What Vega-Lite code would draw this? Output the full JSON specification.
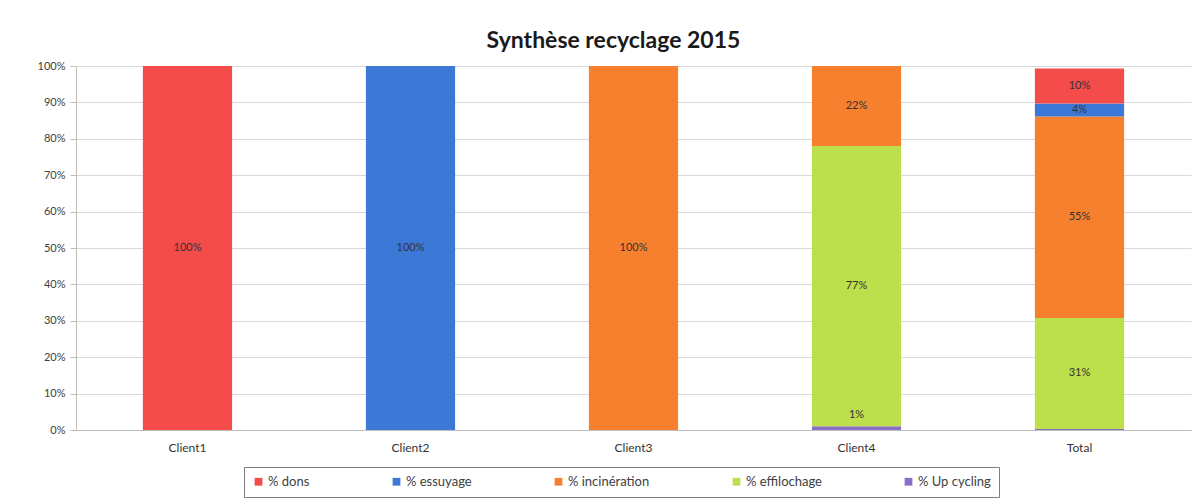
{
  "$schema": "https://vega.github.io/schema/vega-lite/v6.json",
  "width": 1115,
  "height": 364,
  "autosize": "none",
  "padding": {"left": 76, "top": 66, "right": 12, "bottom": 72},
  "background": "white",
  "title": {"text": "Synthèse recyclage 2015", "font": "Lato", "fontSize": 23, "fontWeight": "bold", "color": "#1a1a1a", "offset": 7, "dx": -20},
  "data": {"values": [
    {"client": "Client1", "type": "% dons", "value": 1.0},
    {"client": "Client2", "type": "% essuyage", "value": 1.0},
    {"client": "Client3", "type": "% incinération", "value": 1.0},
    {"client": "Client4", "type": "% Up cycling", "value": 0.01},
    {"client": "Client4", "type": "% effilochage", "value": 0.77},
    {"client": "Client4", "type": "% incinération", "value": 0.22},
    {"client": "Total", "type": "% Up cycling", "value": 0.003},
    {"client": "Total", "type": "% effilochage", "value": 0.305},
    {"client": "Total", "type": "% incinération", "value": 0.553},
    {"client": "Total", "type": "% essuyage", "value": 0.036},
    {"client": "Total", "type": "% dons", "value": 0.096}
  ]},
  "transform": [
    {"calculate": "indexof(['% Up cycling','% effilochage','% incinération','% essuyage','% dons'], datum.type)", "as": "rank"},
    {"stack": "value", "groupby": ["client"], "sort": [{"field": "rank", "order": "ascending"}], "as": ["v0", "v1"]},
    {"calculate": "(datum.v0 + datum.v1) / 2", "as": "mid"}
  ],
  "encoding": {
    "x": {"field": "client", "type": "nominal", "sort": ["Client1", "Client2", "Client3", "Client4", "Total"],
      "scale": {"paddingInner": 0.6, "paddingOuter": 0.3},
      "axis": {"title": null, "labelAngle": 0, "labelFont": "Lato", "labelFontSize": 12, "labelColor": "#333333", "ticks": false, "labelPadding": 12, "domainColor": "#bfbfbf"}}
  },
  "layer": [
    {
      "mark": {"type": "bar"},
      "encoding": {
        "y": {"field": "v0", "type": "quantitative", "scale": {"domain": [0, 1]},
          "axis": {"title": null, "format": ".0%", "values": [0,0.1,0.2,0.3,0.4,0.5,0.6,0.7,0.8,0.9,1], "labelFont": "Lato", "labelFontSize": 11, "labelColor": "#404040", "gridColor": "#d9d9d9", "domainColor": "#bfbfbf", "tickColor": "#bfbfbf", "tickSize": 6, "labelPadding": 5, "labelOverlap": false}},
        "y2": {"field": "v1"},
        "color": {"field": "type", "type": "nominal",
          "scale": {"domain": ["% dons", "% essuyage", "% incinération", "% effilochage", "% Up cycling"],
                    "range": ["#f44b4b", "#3c78d6", "#f7802f", "#bce04b", "#8a6fc6"]},
          "legend": {"title": null, "orient": "none", "legendX": 168, "legendY": 401, "direction": "horizontal",
            "symbolType": "square", "symbolSize": 60, "symbolStrokeWidth": 0, "labelFont": "Lato", "labelFontSize": 13, "labelColor": "#404040",
            "columnPadding": 80, "padding": 8, "strokeColor": "#7f7f7f", "labelOffset": 3}}
      }
    },
    {
      "transform": [{"filter": "datum.value >= 0.03"}],
      "mark": {"type": "text", "font": "Lato", "fontSize": 11, "color": "#333333", "baseline": "middle"},
      "encoding": {
        "y": {"field": "mid", "type": "quantitative", "scale": {"domain": [0, 1]},
          "axis": {"title": null, "format": ".0%", "values": [0,0.1,0.2,0.3,0.4,0.5,0.6,0.7,0.8,0.9,1], "labelFont": "Lato", "labelFontSize": 11, "labelColor": "#404040", "gridColor": "#d9d9d9", "domainColor": "#bfbfbf", "tickColor": "#bfbfbf", "tickSize": 6, "labelPadding": 5, "labelOverlap": false}},
        "text": {"field": "value", "type": "quantitative", "format": ".0%"}
      }
    },
    {
      "transform": [{"filter": "datum.value < 0.03 && datum.value >= 0.005"}],
      "mark": {"type": "text", "font": "Lato", "fontSize": 11, "color": "#333333", "baseline": "middle", "dy": -11},
      "encoding": {
        "y": {"field": "v1", "type": "quantitative", "scale": {"domain": [0, 1]},
          "axis": {"title": null, "format": ".0%", "values": [0,0.1,0.2,0.3,0.4,0.5,0.6,0.7,0.8,0.9,1], "labelFont": "Lato", "labelFontSize": 11, "labelColor": "#404040", "gridColor": "#d9d9d9", "domainColor": "#bfbfbf", "tickColor": "#bfbfbf", "tickSize": 6, "labelPadding": 5, "labelOverlap": false}},
        "text": {"field": "value", "type": "quantitative", "format": ".0%"}
      }
    }
  ],
  "config": {"view": {"stroke": null}}
}
